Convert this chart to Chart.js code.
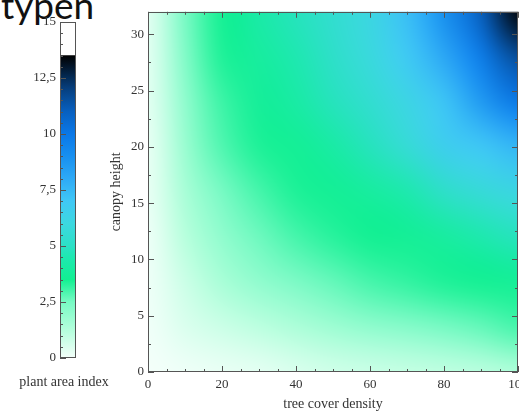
<!DOCTYPE html>
<html>
<head>
<meta charset="utf-8">
<script src="https://cdn.jsdelivr.net/npm/chart.js@4.4.0/dist/chart.umd.min.js"></script>
<style>
    html, body { margin: 0; padding: 0; background: #fff; width: 519px; height: 414px; overflow: hidden; position: relative; }
    #slide-title { position: absolute; left: 1px; top: -14px; font-family: Lato, sans-serif; font-size: 37px; line-height: 37px; color: #111; white-space: nowrap; }
    #legend-chart { position: absolute; left: 0; top: 0; }
    #main-chart { position: absolute; left: 95px; top: 0; }
</style>
</head>
<body>
<div id="slide-title">typen</div>
<canvas id="legend-chart" width="120" height="414"></canvas>
<canvas id="main-chart" width="445" height="414"></canvas>
<script>
// grid positions of the heat map
var densityValues = [0, 10, 20, 30, 40, 50, 60, 70, 80, 90, 100];
var heightValues = [0, 4, 8, 12, 16, 20, 24, 28, 32];

// plant area index, one row per canopy height (bottom row first)
var paiH0  = [0.0, 0.1, 0.2, 0.3, 0.5, 0.7, 0.8, 0.9, 1.0, 1.1, 1.3];
var paiH4  = [0.05, 0.5, 0.8, 1.1, 1.4, 1.7, 2.0, 2.2, 2.5, 2.7, 3.0];
var paiH8  = [0.1, 0.8, 1.5, 2.0, 2.4, 2.7, 3.0, 3.2, 3.4, 3.5, 3.6];
var paiH12 = [0.1, 1.2, 2.0, 2.6, 3.0, 3.3, 3.5, 3.6, 3.9, 4.4, 4.8];
var paiH16 = [0.2, 1.5, 2.5, 3.0, 3.4, 3.6, 3.9, 4.4, 5.1, 5.7, 6.1];
var paiH20 = [0.2, 1.8, 2.9, 3.4, 3.6, 4.1, 4.8, 5.6, 6.6, 7.0, 7.6];
var paiH24 = [0.3, 2.0, 3.1, 3.7, 4.1, 4.8, 5.4, 6.2, 7.1, 8.6, 10.0];
var paiH28 = [0.3, 2.3, 3.4, 3.9, 4.5, 5.1, 5.9, 6.9, 8.1, 9.8, 11.6];
var paiH32 = [0.3, 2.5, 3.5, 4.2, 4.8, 5.4, 6.1, 7.3, 9.0, 11.0, 13.5];
var plantAreaIndex = [paiH0, paiH4, paiH8, paiH12, paiH16, paiH20, paiH24, paiH28, paiH32];

// colour scale of the legend bar
var colorStops = [0, 1.25, 2.5, 3.5, 4.5, 5, 6, 7, 8, 9, 10, 11, 12, 12.5, 13.5];
var stopColors = ['#f4fffa', '#b4ffdc', '#78fac4', '#12f092', '#1ee8b0', '#2ce0c6', '#3cd8e0',
    '#40c8f6', '#2eaaf6', '#1890f0', '#0a78e8', '#0860c0', '#064080', '#042c58', '#000000'];

var serif = '"Liberation Serif", "Times New Roman", serif';

function hexToRgb(h) {
    return [parseInt(h.substr(1, 2), 16), parseInt(h.substr(3, 2), 16), parseInt(h.substr(5, 2), 16)];
}

function colorFor(v) {
    var last = colorStops.length - 1;
    if (v > colorStops[last]) return [255, 255, 255];
    if (v <= colorStops[0]) return hexToRgb(stopColors[0]);
    for (var i = 0; i < last; i++) {
        if (v <= colorStops[i + 1]) {
            var t = (v - colorStops[i]) / (colorStops[i + 1] - colorStops[i]);
            var a = hexToRgb(stopColors[i]), b = hexToRgb(stopColors[i + 1]);
            return [0, 1, 2].map(function (k) { return Math.round(a[k] + (b[k] - a[k]) * t); });
        }
    }
    return hexToRgb(stopColors[last]);
}

// draws the cells through the x / y scales, smoothed like the original image
var heatmapPlugin = {
    id: 'heatmap',
    beforeDatasetsDraw: function (chart) {
        var x = chart.scales.x, y = chart.scales.y, area = chart.chartArea, ctx = chart.ctx;
        var cols = densityValues.length, rows = heightValues.length;
        var off = document.createElement('canvas');
        off.width = cols;
        off.height = rows;
        var octx = off.getContext('2d');
        var img = octx.createImageData(cols, rows);
        for (var r = 0; r < rows; r++) {
            for (var c = 0; c < cols; c++) {
                var rgb = colorFor(plantAreaIndex[r][c]);
                var k = ((rows - 1 - r) * cols + c) * 4;
                img.data[k] = rgb[0];
                img.data[k + 1] = rgb[1];
                img.data[k + 2] = rgb[2];
                img.data[k + 3] = 255;
            }
        }
        octx.putImageData(img, 0, 0);
        var dx = (densityValues[1] - densityValues[0]) / 2;
        var dy = (heightValues[1] - heightValues[0]) / 2;
        var x0 = x.getPixelForValue(densityValues[0] - dx), x1 = x.getPixelForValue(densityValues[cols - 1] + dx);
        var y0 = y.getPixelForValue(heightValues[rows - 1] + dy), y1 = y.getPixelForValue(heightValues[0] - dy);
        ctx.save();
        ctx.beginPath();
        ctx.rect(area.left, area.top, area.right - area.left, area.bottom - area.top);
        ctx.clip();
        ctx.imageSmoothingEnabled = true;
        ctx.imageSmoothingQuality = 'high';
        ctx.drawImage(off, x0, y0, x1 - x0, y1 - y0);
        ctx.restore();
    }
};

// frame and inward tick marks
function tickFrame(sides, xMinor, yMinor) {
    return {
        id: 'tickFrame',
        afterDraw: function (chart) {
            var ctx = chart.ctx, a = chart.chartArea, x = chart.scales.x, y = chart.scales.y;
            ctx.save();
            ctx.strokeStyle = '#555';
            ctx.lineWidth = 1;
            ctx.strokeRect(Math.round(a.left) + 0.5, Math.round(a.top) + 0.5,
                Math.round(a.right - a.left) - 1, Math.round(a.bottom - a.top) - 1);
            ctx.beginPath();
            if (xMinor) {
                for (var v = x.min; v <= x.max + 1e-6; v += xMinor) {
                    var px = Math.round(x.getPixelForValue(v)) + 0.5;
                    var len = (Math.abs(v % x.options.ticks.stepSize) < 1e-6) ? 6 : 3;
                    ctx.moveTo(px, a.bottom); ctx.lineTo(px, a.bottom - len);
                    ctx.moveTo(px, a.top); ctx.lineTo(px, a.top + len);
                }
            }
            if (yMinor) {
                for (var w = y.min; w <= y.max + 1e-6; w += yMinor) {
                    var py = Math.round(y.getPixelForValue(w)) + 0.5;
                    var l2 = (Math.abs(w % y.options.ticks.stepSize) < 1e-6) ? 6 : 3;
                    ctx.moveTo(a.left, py); ctx.lineTo(a.left + l2, py);
                    if (sides === 4) { ctx.moveTo(a.right, py); ctx.lineTo(a.right - l2, py); }
                }
            }
            ctx.stroke();
            ctx.restore();
        }
    };
}

// caption under the legend bar, wider than the bar itself
var legendCaption = {
    id: 'legendCaption',
    afterDraw: function (chart) {
        var ctx = chart.ctx, a = chart.chartArea;
        ctx.save();
        ctx.font = '14px ' + serif;
        ctx.fillStyle = '#333';
        ctx.textAlign = 'center';
        ctx.textBaseline = 'middle';
        ctx.fillText('plant area index', (a.left + a.right) / 2 - 4, a.bottom + 24);
        ctx.restore();
    }
};

Chart.defaults.font.family = serif;
Chart.defaults.color = '#333';

new Chart(document.getElementById('main-chart'), {
    type: 'scatter',
    data: {datasets: [{data: []}]},
    options: {
        responsive: false,
        animation: false,
        devicePixelRatio: 1,
        layout: {padding: {left: 0, top: 5, right: 22, bottom: 0}},
        plugins: {legend: {display: false}, tooltip: {enabled: false}},
        scales: {
            x: {
                type: 'linear', min: 0, max: 100,
                ticks: {stepSize: 20, padding: 5, font: {size: 13}, color: '#333'},
                grid: {display: false, drawTicks: false},
                border: {display: false},
                title: {display: true, text: 'tree cover density', font: {size: 14}, color: '#333', padding: {top: 0, bottom: 1}},
                afterFit: function (s) { s.height = 42; }
            },
            y: {
                type: 'linear', min: 0, max: 32,
                ticks: {stepSize: 5, includeBounds: false, padding: 4, font: {size: 13}, color: '#333'},
                grid: {display: false, drawTicks: false},
                border: {display: false},
                title: {display: true, text: 'canopy height', font: {size: 14}, color: '#333', padding: {top: 13, bottom: 0}},
                afterFit: function (s) { s.width = 53; }
            }
        }
    },
    plugins: [heatmapPlugin, tickFrame(4, 5, 2.5)]
});

// legend bar: one bar up to the top of the colour scale
new Chart(document.getElementById('legend-chart'), {
    type: 'bar',
    data: {
        labels: [''],
        datasets: [{
            data: [colorStops[colorStops.length - 1]],
            barPercentage: 1,
            categoryPercentage: 1,
            borderWidth: 0,
            backgroundColor: function (context) {
                var chart = context.chart;
                if (!chart.chartArea) return '#000';
                var y = chart.scales.y;
                var top = colorStops[colorStops.length - 1];
                var g = chart.ctx.createLinearGradient(0, y.getPixelForValue(0), 0, y.getPixelForValue(top));
                colorStops.forEach(function (s, i) { g.addColorStop(s / top, stopColors[i]); });
                return g;
            }
        }]
    },
    options: {
        responsive: false,
        animation: false,
        devicePixelRatio: 1,
        layout: {padding: {left: 0, top: 22, right: 44, bottom: 0}},
        plugins: {legend: {display: false}, tooltip: {enabled: false}},
        scales: {
            x: {
                ticks: {display: false},
                grid: {display: false, drawTicks: false},
                border: {display: false},
                afterFit: function (s) { s.height = 56; }
            },
            y: {
                min: 0, max: 15,
                ticks: {
                    stepSize: 2.5, padding: 4, font: {size: 13}, color: '#333',
                    callback: function (v) { return String(v).replace('.', ','); }
                },
                grid: {display: false, drawTicks: false},
                border: {display: false},
                afterFit: function (s) { s.width = 60; }
            }
        }
    },
    plugins: [tickFrame(1, 0, 0.5), legendCaption]
});
</script>
</body>
</html>
